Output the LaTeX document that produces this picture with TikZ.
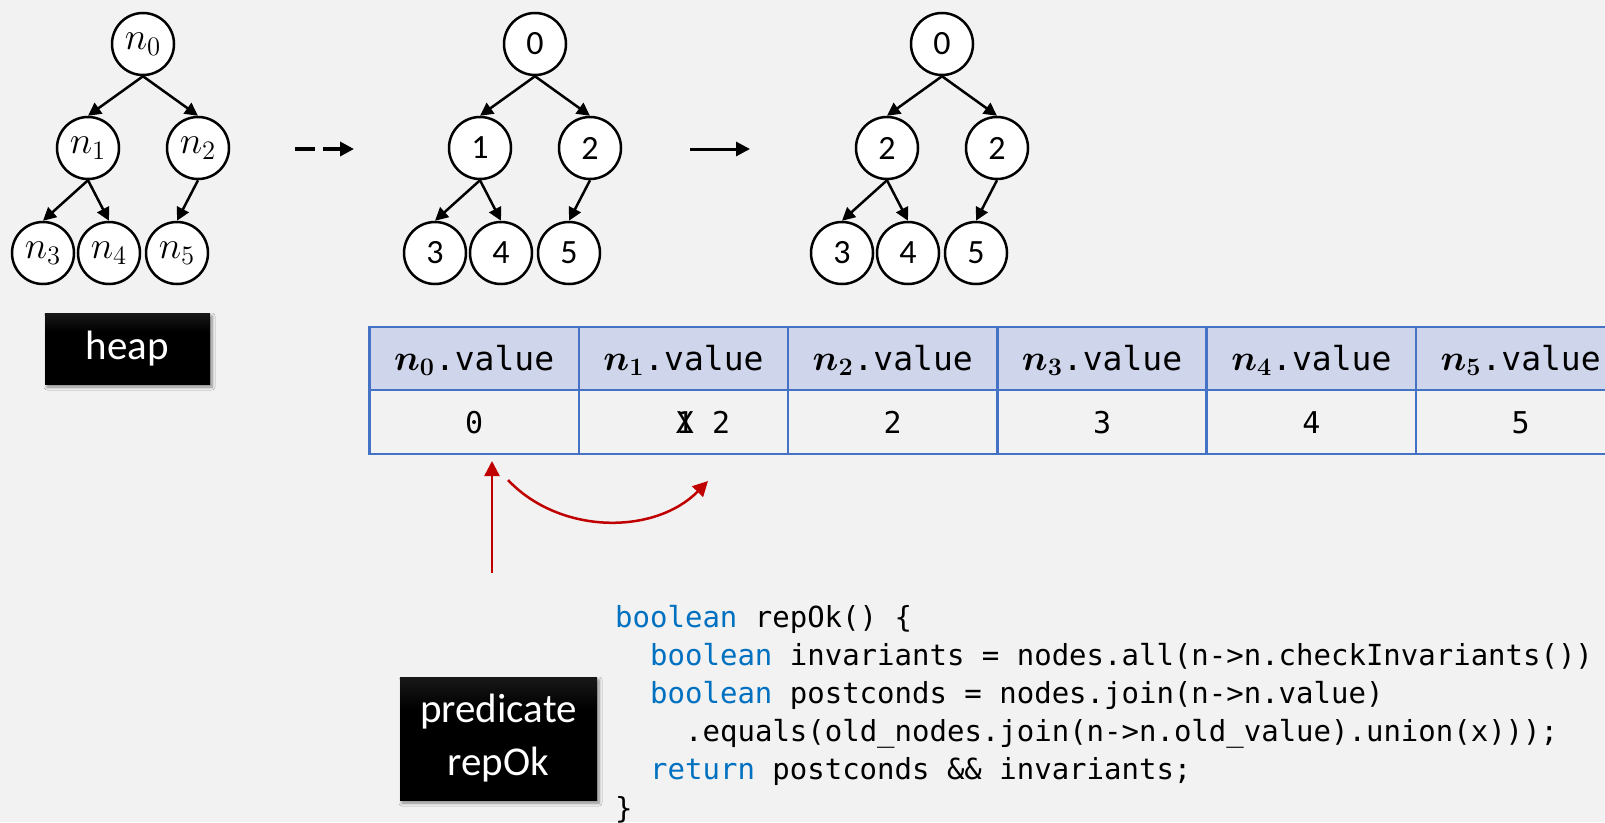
\documentclass[tikz,border=0pt]{standalone}
\usepackage{graphicx}
\usepackage[no-math]{fontspec}
\setmainfont{Carlito}
\newfontfamily\codefont{DejaVu Sans Mono}
\usetikzlibrary{arrows.meta,shadows.blur}
\definecolor{bg}{HTML}{F2F2F2}
\definecolor{tblue}{HTML}{4472C4}
\definecolor{thead}{HTML}{CFD5EA}
\definecolor{kwblue}{HTML}{0070C0}
\definecolor{darkred}{HTML}{C00000}
\pgfdeclareverticalshading{labelbox}{100bp}{color(0bp)=(black); color(62bp)=(black); color(100bp)=(black!72)}

% node names n_i, set large by scaling a 20.74pt formula
\newcommand{\nname}[1]{\scalebox{1.85}{\fontsize{20.74}{20.74}\selectfont$n_{#1}$}}
\newcommand{\nbold}[1]{\scalebox{1.75}{\fontsize{20.74}{20.74}\selectfont\boldmath$n_{#1}$}}

% one binary heap: root, two children, three grandchildren
\newcommand{\heaptree}[8]{%
  \begin{scope}[xshift=#2]
    \node[vert] (#1r)  at (143,44)  {#3};
    \node[vert] (#1a)  at (88,148)  {#4};
    \node[vert] (#1b)  at (198,148) {#5};
    \node[vert] (#1c)  at (43,253)  {#6};
    \node[vert] (#1d)  at (109,253) {#7};
    \node[vert] (#1e)  at (177,253) {#8};
    \draw[edge] (#1r.south) -- (#1a.north);
    \draw[edge] (#1r.south) -- (#1b.north);
    \draw[edge] (#1a.south) -- (#1c.north);
    \draw[edge] (#1a.south) -- (#1d.north);
    \draw[edge] (#1b.south) -- (#1e.north);
  \end{scope}}

\begin{document}
\begin{tikzpicture}[x=1pt,y=-1pt,
  vert/.style={circle,draw=black,line width=2.5pt,fill=white,minimum size=62pt,
    inner sep=0pt,font=\fontsize{34}{34}\selectfont},
  edge/.style={line width=2.5pt,-{Triangle[length=13pt,width=13pt]}},
  flow/.style={line width=3.5pt,-{Triangle[length=14pt,width=14pt]}},
  redarrow/.style={draw=darkred,line width=2.5pt,-{Triangle[length=15pt,width=15pt]}},
  labelbox/.style={shading=labelbox,text=white,inner sep=0pt,
    font=\fontsize{41}{53}\selectfont,align=center,
    blur shadow={shadow xshift=2pt,shadow yshift=-3pt,shadow blur steps=6,
      shadow blur radius=3pt,shadow opacity=45}},
  headcell/.style={draw=tblue,line width=2.5pt,fill=thead,minimum width=209.3pt,
    minimum height=63pt,inner sep=0pt,text height=30pt,text depth=7pt,
    font=\fontsize{33}{33}\selectfont},
  valcell/.style={draw=tblue,line width=2.5pt,minimum width=209.3pt,
    minimum height=64pt,inner sep=0pt,text height=28pt,text depth=6pt,
    font=\codefont\fontsize{30}{30}\selectfont},
  code/.style={anchor=base west,inner sep=0pt,font=\codefont\fontsize{29}{29}\selectfont}]

\fill[bg] (0,0) rectangle (1605,822);
\useasboundingbox (0,0) rectangle (1605,822);

% the three heaps
\heaptree{p}{0pt}{\nname0}{\nname1}{\nname2}{\nname3}{\nname4}{\nname5}
\heaptree{q}{392pt}{0}{1}{2}{3}{4}{5}
\heaptree{s}{799pt}{0}{2}{2}{3}{4}{5}

% steps between the heaps
\coordinate (d1) at (295,149);
\coordinate (d2) at (354,149);
\draw[flow,dash pattern=on 20pt off 8pt] (d1) -- (d2);
\coordinate (f1) at (690,149);
\coordinate (f2) at (750,149);
\draw[flow,line width=3pt] (f1) -- (f2);

% labels
\node[labelbox,minimum width=165pt,minimum height=71pt] (heap) at (127.5,348.5) {heap};
\node[labelbox,minimum width=197pt,minimum height=123pt] (pred) at (498.5,738.5) {predicate\\repOk};

% value table
\foreach \i in {0,...,5}{
  \node[headcell] (h\i) at (474.15+209.3*\i,358.5) {\nbold{\i}{\codefont .value}};
}
\node[valcell] (v0) at (474.15,422) {0};
\node[valcell] (v1) at (683.45,422) {};
\node[valcell] (v2) at (892.75,422) {2};
\node[valcell] (v3) at (1102.05,422) {3};
\node[valcell] (v4) at (1311.35,422) {4};
\node[valcell] (v5) at (1520.65,422) {5};
\node[inner sep=0pt,text height=28pt,text depth=6pt,font=\codefont\fontsize{30}{30}\selectfont]
  (v1t) at (703,422) {\rlap{1}X 2};

% predicate check walking along the values
\coordinate (ra) at (492,573);
\coordinate (rb) at (492,461);
\draw[redarrow] (ra) -- (rb);
\coordinate (ca) at (508,480);
\coordinate (cb) at (708,481);
\draw[redarrow] (ca) .. controls (560,535) and (655,535) .. (cb);

% repOk source
\node[code] (c1) at (615,627)   {\textcolor{kwblue}{boolean} repOk() \{};
\node[code] (c2) at (650,665.2) {\textcolor{kwblue}{boolean} invariants = nodes.all(n->n.checkInvariants())};
\node[code] (c3) at (650,703.4) {\textcolor{kwblue}{boolean} postconds = nodes.join(n->n.value)};
\node[code] (c4) at (685,741.6) {.equals(old\_nodes.join(n->n.old\_value).union(x)));};
\node[code] (c5) at (650,779.8) {\textcolor{kwblue}{return} postconds \&\& invariants;};
\node[code] (c6) at (615,818)   {\}};

\end{tikzpicture}
\end{document}
